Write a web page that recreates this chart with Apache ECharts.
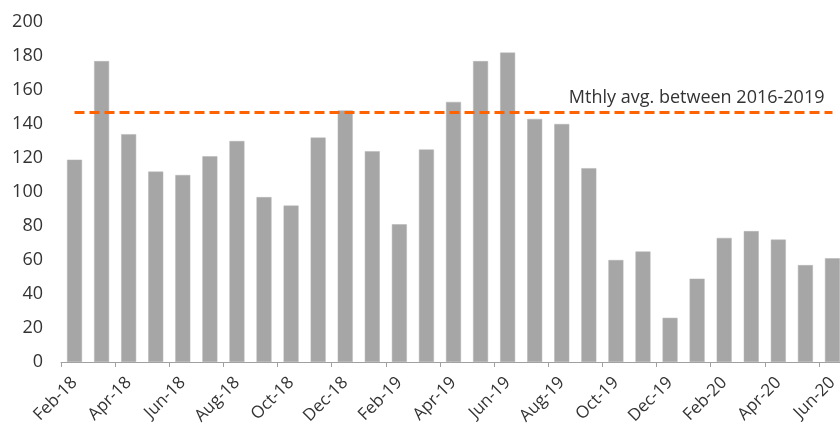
<!DOCTYPE html>
<html>
<head>
<meta charset="utf-8">
<style>
  html, body { margin: 0; padding: 0; background: #fff; }
  #chart { width: 840px; height: 427px; }
</style>
<script src="https://cdn.jsdelivr.net/npm/echarts@6/dist/echarts.min.js"></script>
</head>
<body>
<div id="chart"></div>
<script>
// Monthly figures, Feb 2018 – Jun 2020
const months = [
  'Feb-18','Mar-18','Apr-18','May-18','Jun-18','Jul-18','Aug-18','Sep-18','Oct-18','Nov-18','Dec-18',
  'Jan-19','Feb-19','Mar-19','Apr-19','May-19','Jun-19','Jul-19','Aug-19','Sep-19','Oct-19','Nov-19','Dec-19',
  'Jan-20','Feb-20','Mar-20','Apr-20','May-20','Jun-20'
];
const values = [
  119, 177, 134, 112, 110, 121, 130, 97, 92, 132, 148,
  124, 81, 125, 153, 177, 182, 143, 140, 114, 60, 65, 26,
  49, 73, 77, 72, 57, 61
];
const avgLabel = 'Mthly avg. between 2016-2019';
const avgValue = 147;
const yTicks = { min: 0, max: 200, interval: 20 };

const FONT = '"Open Sans", sans-serif';
const chart = echarts.init(document.getElementById('chart'));

chart.setOption({
  animation: false,
  grid: { left: 61, right: -6, top: 22, bottom: 65, containLabel: false, outerBoundsMode: 'none' },
  xAxis: {
    type: 'category',
    data: months,
    boundaryGap: true,
    axisLine: { show: true, lineStyle: { color: '#a0a0a0', width: 1 } },
    axisTick: { show: true, interval: 1, length: 5, lineStyle: { color: '#a0a0a0' } },
    axisLabel: {
      interval: 1,
      rotate: 45,
      color: '#333',
      fontFamily: FONT,
      fontSize: 17,
      margin: 18
    },
    splitLine: { show: false }
  },
  yAxis: {
    type: 'value',
    min: yTicks.min,
    max: yTicks.max,
    interval: yTicks.interval,
    axisLine: { show: false },
    axisTick: { show: false },
    splitLine: { show: false },
    axisLabel: { color: '#333', fontFamily: FONT, fontSize: 18, margin: 18 }
  },
  series: [{
    type: 'bar',
    data: values,
    barWidth: 15,
    itemStyle: { color: '#a6a6a6', borderColor: '#b4b4b4', borderWidth: 0.5 },
    markLine: {
      silent: true,
      symbol: ['none', 'none'],
      lineStyle: { color: '#ff6200', type: [10, 5], width: 3 },
      label: {
        show: true,
        position: 'insideEndTop',
        formatter: avgLabel,
        color: '#333',
        fontFamily: FONT,
        fontSize: 18,
        distance: [8, 5]
      },
      data: [[
        { coord: [months[0], avgValue] },
        { coord: [months[months.length - 1], avgValue] }
      ]]
    }
  }]
});
</script>
</body>
</html>
